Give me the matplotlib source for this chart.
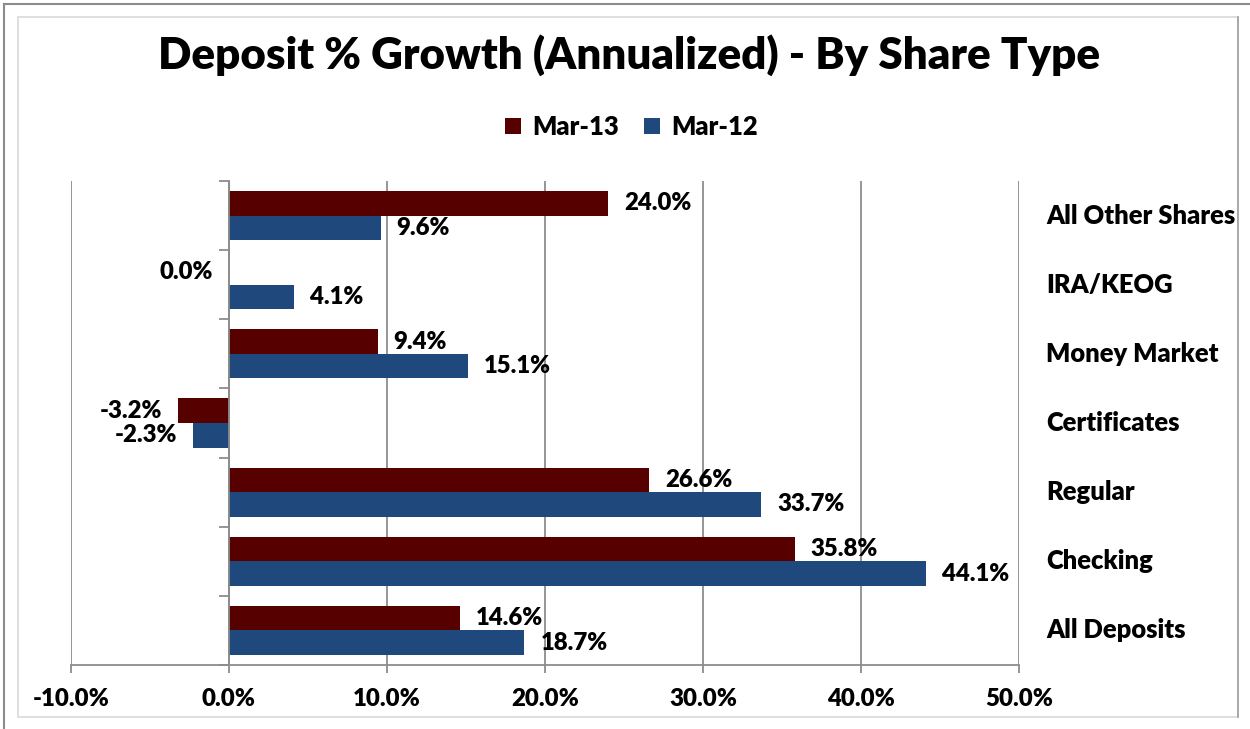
import matplotlib
matplotlib.use("Agg")
import matplotlib.pyplot as plt
from matplotlib.patches import Rectangle
from matplotlib.lines import Line2D
import matplotlib.ticker as mticker

plt.rcParams['font.family'] = ['Lato', 'DejaVu Sans']
W = "heavy"

categories = ["All Deposits", "Checking", "Regular", "Certificates",
              "Money Market", "IRA/KEOG", "All Other Shares"]
mar13 = [14.6, 35.8, 26.6, -3.2, 9.4, 0.0, 24.0]
mar12 = [18.7, 44.1, 33.7, -2.3, 15.1, 4.1, 9.6]
series_names = ["Mar-13", "Mar-12"]
red = "#560000"
blue = "#1F497D"

fig = plt.figure(figsize=(12.5, 7.29), dpi=100)

# chart frame like an Excel chart area
fig.patches.append(Rectangle((18 / 1250, 1 - 717 / 729), 1220 / 1250, 700 / 729,
                             transform=fig.transFigure, fill=False,
                             edgecolor="#d9d9d9", linewidth=1.2))
fig.lines.append(Line2D([4 / 1250, 4 / 1250], [0, 1 - 4 / 729], transform=fig.transFigure,
                        color="#8c8c8c", linewidth=1.5))
fig.lines.append(Line2D([4 / 1250, 1], [1 - 4 / 729, 1 - 4 / 729], transform=fig.transFigure,
                        color="#8c8c8c", linewidth=1.5))
fig.lines.append(Line2D([1238 / 1250, 1238 / 1250], [1 - 717 / 729, 1 - 17 / 729],
                        transform=fig.transFigure, color="#a0a0a0", linewidth=1.2))

ax = fig.add_axes([71 / 1250, 1 - 665 / 729, 948 / 1250, 484 / 729])

y = list(range(len(categories)))
h = 0.355
ax.barh([v + h / 2 for v in y], mar13, height=h, color=red, label=series_names[0], zorder=3)
ax.barh([v - h / 2 for v in y], mar12, height=h, color=blue, label=series_names[1], zorder=3)

ax.set_xlim(-10, 50)
ax.set_ylim(-0.5, len(categories) - 0.5)
ax.xaxis.set_major_locator(mticker.MultipleLocator(10))
ax.xaxis.set_major_formatter(mticker.FuncFormatter(lambda v, p: "%.1f%%" % v))
ax.grid(axis="x", color="#8c8c8c", linewidth=1.3, zorder=0)
ax.set_axisbelow(True)

for s in ["top", "right"]:
    ax.spines[s].set_visible(False)
ax.spines["left"].set_position(("data", 0))
ax.spines["left"].set_color("#8c8c8c")
ax.spines["left"].set_linewidth(1.3)
ax.spines["left"].set_zorder(4)
ax.spines["bottom"].set_color("#8c8c8c")
ax.spines["bottom"].set_linewidth(1.3)

ax.set_yticks(y)
ax.set_yticklabels([])
ax.tick_params(axis="y", which="major", length=0)
ax.set_yticks([v - 0.5 for v in y] + [len(categories) - 0.5], minor=True)
ax.tick_params(axis="y", which="minor", length=7, width=1.3, color="#8c8c8c", direction="out")
ax.tick_params(axis="x", length=6, width=1.3, color="#8c8c8c", pad=10.5, labelsize=17.3)
for lab in ax.get_xticklabels():
    lab.set_fontweight(W)

for i, name in enumerate(categories):
    ax.text(1.029, i, name, transform=ax.get_yaxis_transform(), ha="left", va="center",
            fontsize=18.4, fontweight=W)

def label_bars(vals, offs):
    for i, v in enumerate(vals):
        if v > 0:
            ax.annotate("%.1f%%" % v, (v, i + offs), xytext=(11.5, 0), textcoords="offset points",
                        ha="left", va="center", fontsize=17.2, fontweight=W)
        else:
            ax.annotate("%.1f%%" % v, (v, i + offs), xytext=(-11.5, 0), textcoords="offset points",
                        ha="right", va="center", fontsize=17.2, fontweight=W)

label_bars(mar13, h / 2)
label_bars(mar12, -h / 2)

fig.text(0.503, 1 - 55 / 729, "Deposit % Growth (Annualized) - By Share Type",
         ha="center", va="center", fontsize=31.6, fontweight=W)

fig.legend(loc="center", bbox_to_anchor=(631.5 / 1250, 1 - 127 / 729), ncol=2, frameon=False,
           prop={"size": 18.4, "weight": W}, handlelength=0.6, handleheight=0.6,
           handletextpad=0.45, columnspacing=1.0)

fig.savefig("out.png", dpi=100)
